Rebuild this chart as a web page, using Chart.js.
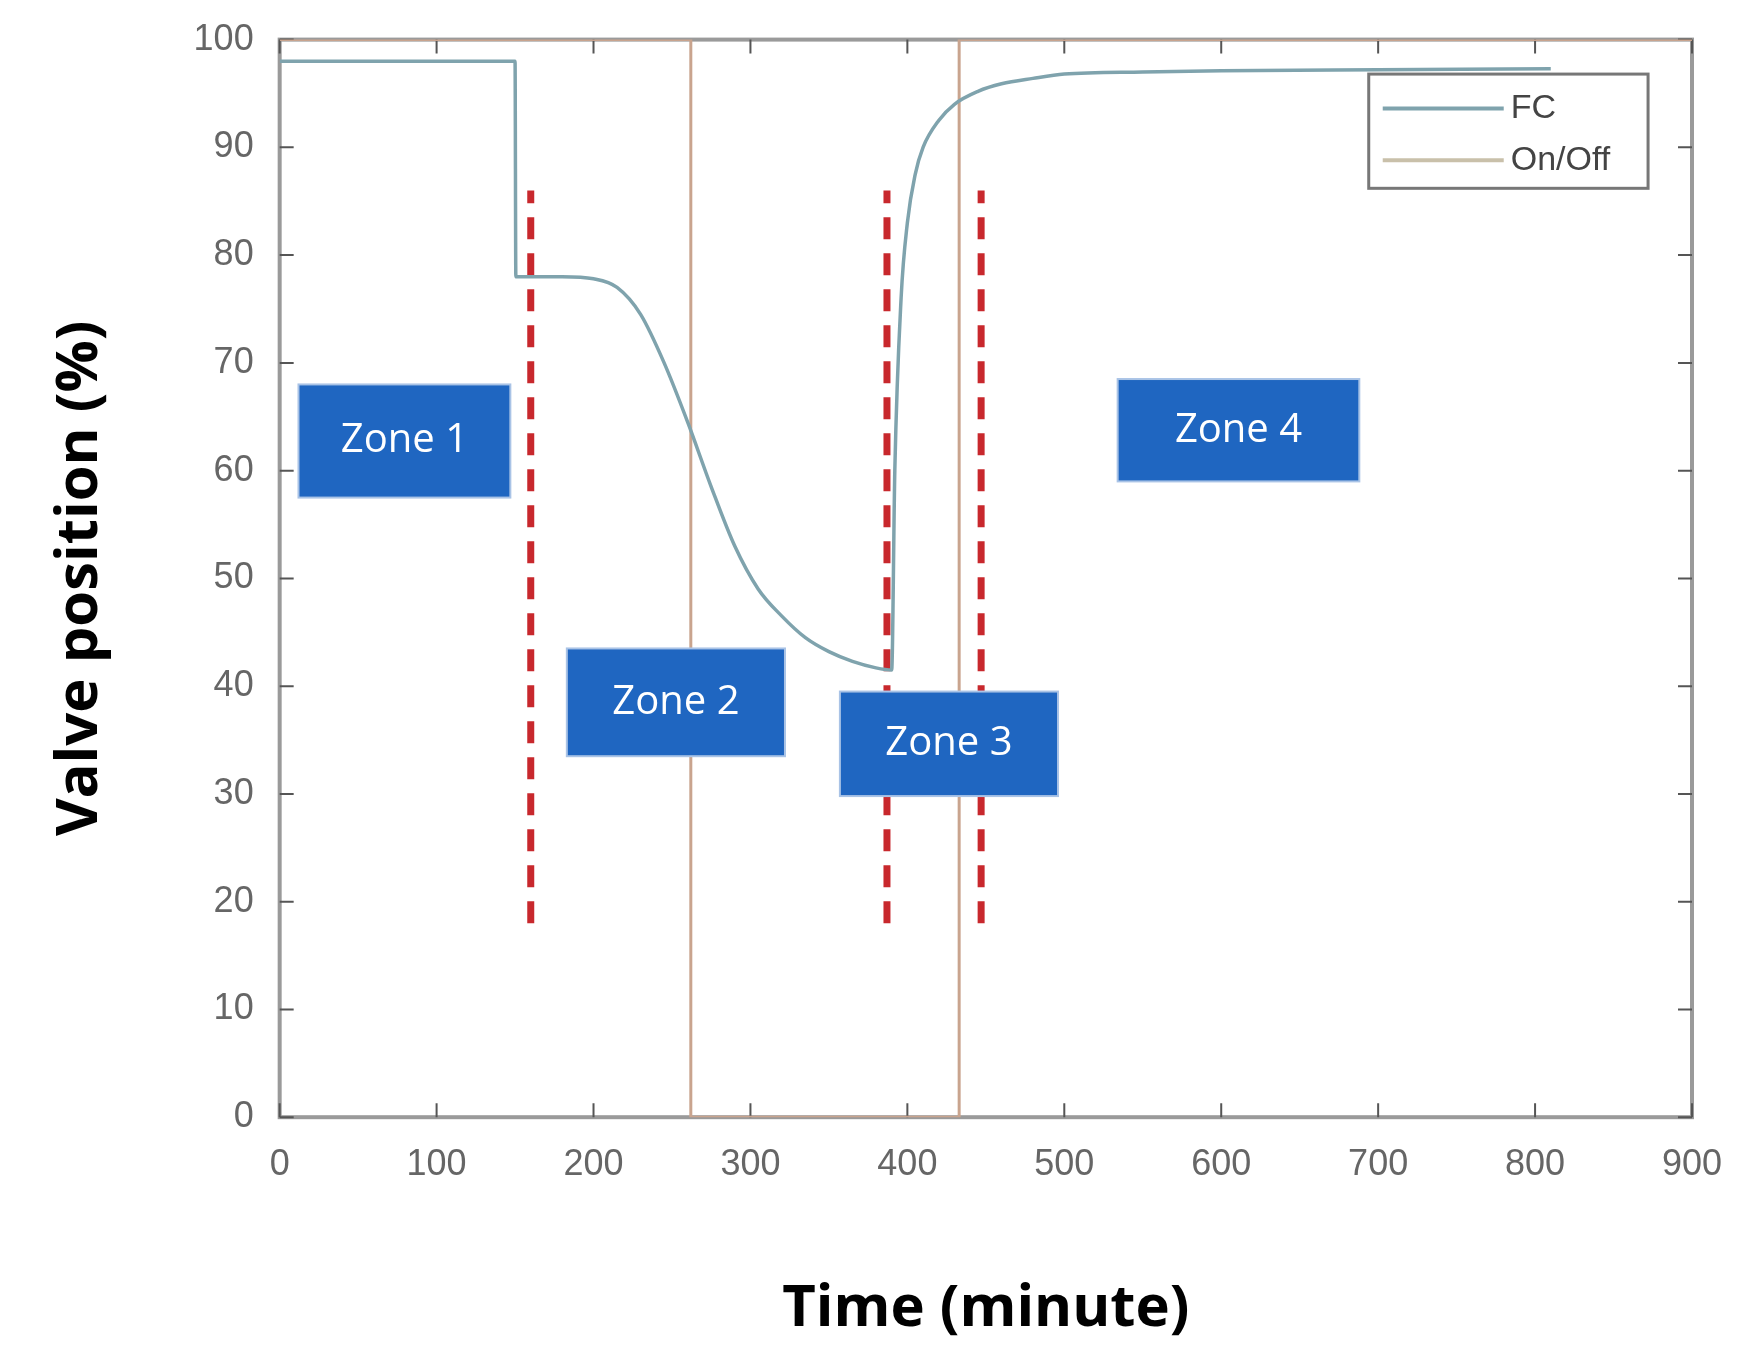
<!DOCTYPE html>
<html><head><meta charset="utf-8">
<script src="https://cdn.jsdelivr.net/npm/chart.js@4"></script>
<style>body{margin:0;background:#fff}#wrap{width:1764px;height:1368px}</style>
</head><body><div id="wrap"><canvas id="c"></canvas></div>
<script>
const fcX = [0, 150, 150.5, 180, 200, 215, 230, 245, 260, 275, 290, 305, 320, 335, 350, 365, 380, 390, 392, 396, 400, 405, 410, 420, 430, 445, 460, 480, 500, 550, 600, 700, 810];
const fcY = [98, 98, 78, 78, 77.8, 77, 74.5, 70, 64.5, 58.5, 53, 49, 46.5, 44.5, 43.2, 42.3, 41.7, 41.5, 60, 76, 83, 87.5, 90, 92.5, 94, 95.2, 95.9, 96.4, 96.8, 97, 97.1, 97.2, 97.3];
const onoffX = [0, 262, 262, 433, 433, 900];
const onoffY = [100, 100, 0, 0, 100, 100];
const dashX = [160, 387, 447];
const dashRange = [18, 86];
const zones = [
  {label: 'Zone 1', x: [12, 147], y: [57.5, 68]},
  {label: 'Zone 2', x: [183, 322], y: [33.5, 43.5]},
  {label: 'Zone 3', x: [357, 496], y: [29.8, 39.5]},
  {label: 'Zone 4', x: [534, 688], y: [59, 68.5]}
];
const xTicks = [0, 100, 200, 300, 400, 500, 600, 700, 800, 900];

const datasets = [
  {label: 'FC', data: fcX.map((x, i) => ({x, y: fcY[i]})), borderColor: '#7fa3ad', borderWidth: 3.5, cubicInterpolationMode: 'monotone'},
  {label: 'On/Off', data: onoffX.map((x, i) => ({x, y: onoffY[i]})), borderColor: '#c9a48e', borderWidth: 3}
];
dashX.forEach(x => datasets.push({
  label: '', data: [{x, y: dashRange[0]}, {x, y: dashRange[1]}],
  borderColor: '#c8282d', borderWidth: 7, borderDash: [22, 14]
}));

const frame = {
  id: 'frame',
  beforeDatasetsDraw(chart) {
    const {ctx, chartArea: a, scales: {x, y}} = chart;
    ctx.save();
    ctx.strokeStyle = '#9a9a9a'; ctx.lineWidth = 4;
    ctx.strokeRect(a.left, a.top, a.right - a.left, a.bottom - a.top);
    ctx.lineWidth = 2; ctx.strokeStyle = '#555';
    xTicks.forEach(t => {
      const px = x.getPixelForValue(t);
      ctx.beginPath(); ctx.moveTo(px, a.bottom); ctx.lineTo(px, a.bottom - 14);
      ctx.moveTo(px, a.top); ctx.lineTo(px, a.top + 14); ctx.stroke();
    });
    for (let t = 0; t <= 100; t += 10) {
      const py = y.getPixelForValue(t);
      ctx.beginPath(); ctx.moveTo(a.left, py); ctx.lineTo(a.left + 14, py);
      ctx.moveTo(a.right, py); ctx.lineTo(a.right - 14, py); ctx.stroke();
    }
    ctx.restore();
  },
  afterDatasetsDraw(chart) {
    const {ctx, scales: {x, y}} = chart;
    ctx.save();
    zones.forEach(z => {
      const l = x.getPixelForValue(z.x[0]), r = x.getPixelForValue(z.x[1]);
      const t = y.getPixelForValue(z.y[1]), b = y.getPixelForValue(z.y[0]);
      ctx.fillStyle = '#1f66c1'; ctx.fillRect(l, t, r - l, b - t);
      ctx.strokeStyle = '#a9c3e6'; ctx.lineWidth = 2; ctx.strokeRect(l, t, r - l, b - t);
      ctx.fillStyle = '#fff'; ctx.font = '40px "Open Sans"';
      ctx.textAlign = 'center'; ctx.textBaseline = 'middle';
      ctx.fillText(z.label, (l + r) / 2, (t + b) / 2);
    });
    // legend
    const lx = x.getPixelForValue(694), rx = x.getPixelForValue(872);
    const ty = y.getPixelForValue(96.8), by = y.getPixelForValue(86.2);
    ctx.fillStyle = '#fff'; ctx.fillRect(lx, ty, rx - lx, by - ty);
    ctx.strokeStyle = '#777'; ctx.lineWidth = 3; ctx.strokeRect(lx, ty, rx - lx, by - ty);
    [['FC', '#7fa3ad', 93.6], ['On/Off', '#c9c0aa', 88.8]].forEach(([t, c, v]) => {
      const py = y.getPixelForValue(v);
      ctx.strokeStyle = c; ctx.lineWidth = 4;
      ctx.beginPath(); ctx.moveTo(lx + 14, py); ctx.lineTo(lx + 135, py); ctx.stroke();
      ctx.fillStyle = '#444'; ctx.font = '34px "Liberation Sans"';
      ctx.textAlign = 'left'; ctx.textBaseline = 'middle';
      ctx.fillText(t, lx + 142, py);
    });
    ctx.restore();
  }
};

new Chart(document.getElementById('c'), {
  type: 'line',
  data: {datasets},
  options: {
    responsive: true, maintainAspectRatio: false, animation: false,
    elements: {point: {radius: 0}, line: {tension: 0}},
    layout: {padding: {top: 38, right: 72, left: 42, bottom: 20}},
    plugins: {legend: {display: false}, tooltip: {enabled: false}},
    scales: {
      x: {
        type: 'linear', min: 0, max: 900,
        afterBuildTicks: s => { s.ticks = xTicks.map(v => ({value: v})); },
        grid: {display: false}, border: {display: false},
        ticks: {color: '#666', font: {size: 36, family: 'Liberation Sans'}, padding: 18},
        title: {display: true, text: 'Time (minute)', color: '#000', font: {size: 58, weight: 'bold', family: 'Open Sans'}, padding: {top: 70}}
      },
      y: {
        min: 0, max: 100,
        grid: {display: false}, border: {display: false},
        ticks: {stepSize: 10, color: '#666', font: {size: 36, family: 'Liberation Sans'}, padding: 18},
        title: {display: true, text: 'Valve position (%)', color: '#000', font: {size: 58, weight: 'bold', family: 'Open Sans'}, padding: {bottom: 60}}
      }
    }
  },
  plugins: [frame]
});
</script></body></html>
